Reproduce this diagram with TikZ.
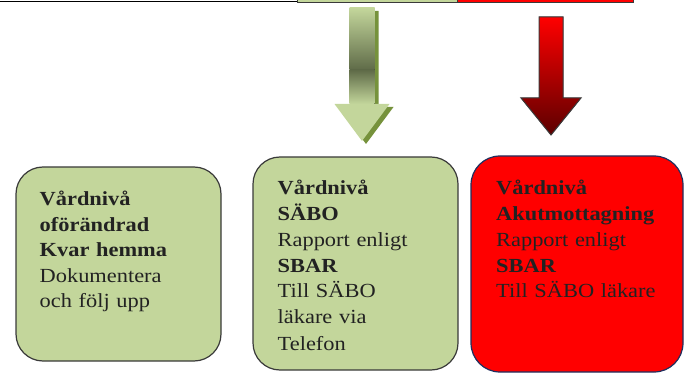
\documentclass[tikz,border=0pt]{standalone}
\usepackage{fontspec}
\setmainfont{Liberation Serif}[FakeStretch=1.12]
\definecolor{boxgreen}{HTML}{C3D69B}
\definecolor{darkolive}{HTML}{5F6B48}
\definecolor{shadowgreen}{HTML}{76923C}
\definecolor{boxborder}{HTML}{3A3A3A}
\definecolor{navyborder}{HTML}{1F2F5F}
\definecolor{txt}{HTML}{222222}
\definecolor{darkred}{HTML}{5C0000}
\tikzset{
  greenbox/.style={draw=boxborder, fill=boxgreen, line width=1.2pt, rounded corners=27pt, anchor=north west, inner sep=0pt, outer sep=0pt},
  redbox/.style={draw=navyborder, fill=red, line width=1.2pt, rounded corners=29pt, anchor=north west, inner sep=0pt, outer sep=0pt},
  boxtext/.style={text=txt, align=left, text width=190pt, inner sep=0pt, anchor=base west},
  stripline/.style={draw=boxborder, line width=1pt}
}
\begin{document}
\begin{tikzpicture}[x=1pt,y=-1pt]
\useasboundingbox (0,0) rectangle (685,374);
\clip (0,0) rectangle (685,374);
% top strip
\draw[line width=1.2pt] (0,1.5) -- (297,1.5);
\filldraw[stripline, fill=boxgreen] (297,-4) rectangle (457,3);
\filldraw[stripline, fill=red] (457,-4) rectangle (633,3);
% green arrow
\fill[shadowgreen, shift={(4pt,-3pt)}] (349.5,8) -- (374.5,8) -- (374.5,104) -- (389.5,104) -- (362,141) -- (334.5,104) -- (349.5,104) -- cycle;
\fill[boxgreen] (349.5,8) -- (374.5,8) -- (374.5,104) -- (389.5,104) -- (362,141) -- (334.5,104) -- (349.5,104) -- cycle;
\fill[top color=boxgreen, bottom color=darkolive] (349.5,8) rectangle (374.5,70);
\fill[top color=darkolive, bottom color=boxgreen] (349.5,70) rectangle (374.5,104);
% red arrow
\filldraw[draw=boxborder, line width=1pt, top color=red, bottom color=darkred] (539,17) -- (563,17) -- (563,98) -- (581,98) -- (551,135) -- (521,98) -- (539,98) -- cycle;
% boxes
\node[greenbox, minimum width=205pt, minimum height=194pt] (b1) at (16,167) {};
\node[greenbox, minimum width=205pt, minimum height=213pt] (b2) at (253,157) {};
\node[redbox, minimum width=212pt, minimum height=216pt] (b3) at (471,156) {};
% texts
\node[boxtext, font=\fontsize{20}{25.4}\selectfont] (t1) at (39.5,206) {\textbf{Vårdnivå}\\\textbf{oförändrad}\\\textbf{Kvar hemma}\\Dokumentera\\och följ upp};
\node[boxtext, font=\fontsize{20}{26}\selectfont] (t2) at (277.5,194) {\textbf{Vårdnivå}\\\textbf{SÄBO}\\Rapport enligt\\\textbf{SBAR}\\Till SÄBO\\läkare via\\Telefon};
\node[boxtext, font=\fontsize{20}{26}\selectfont] (t3) at (496,194) {\textbf{Vårdnivå}\\\textbf{Akutmottagning}\\Rapport enligt\\\textbf{SBAR}\\Till SÄBO läkare};
\end{tikzpicture}
\end{document}
